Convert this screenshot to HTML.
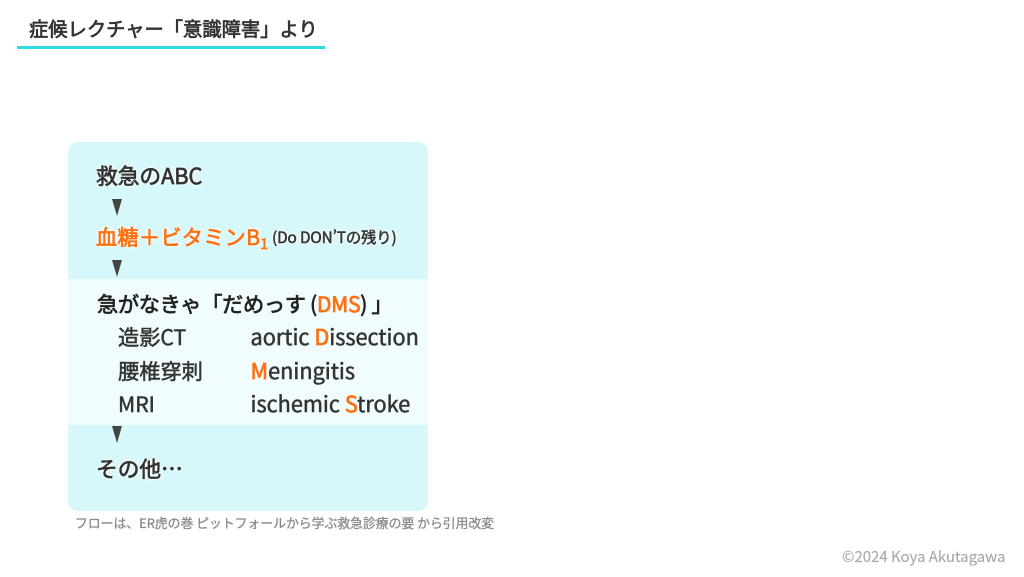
<!DOCTYPE html>
<html lang="ja"><head><meta charset="utf-8"><style>
html,body{margin:0;padding:0;background:#fff}
#p{position:relative;width:1024px;height:577px;overflow:hidden;background:#fff;font-family:"Noto Sans CJK JP","Liberation Sans",sans-serif;color:#333;font-weight:400}
.t{position:absolute;white-space:nowrap;line-height:1;-webkit-text-stroke:.5px currentColor}
.o{color:#ff7012;-webkit-text-stroke:.7px #ff7012}
.h{text-shadow:0 0 3px #fff,0 0 3px #fff,0 0 4px #fff}
.a{position:absolute;left:112px;width:0;height:0;border-left:5.5px solid transparent;border-right:5.5px solid transparent;border-top:17px solid #444}
.l{font-size:21.2px}
.m{font-size:21.7px}
</style></head><body><div id="p">
<div class="t" style="left:29px;top:19px;font-size:19.3px;-webkit-text-stroke:.7px #333">症候レクチャー「意識障害」より</div>
<div style="position:absolute;left:17px;top:46px;width:308px;height:3px;background:#2bdde3"></div>
<div style="position:absolute;left:68px;top:142px;width:360px;height:369px;background:#d6f8fa;border-radius:10px"></div>
<div style="position:absolute;left:68px;top:279px;width:360px;height:146px;background:#f0fcfd"></div>
<div class="t h m" style="left:96px;top:165px;-webkit-text-stroke:.7px #333">救急のABC</div>
<div class="a" style="top:199px"></div>
<div class="t h o l" style="left:96px;top:226px;letter-spacing:.25px">血糖＋ビタミンB<sub style="font-size:14px;line-height:0;vertical-align:-4px">1</sub></div>
<div class="t h" style="left:272px;top:230px;font-size:15.3px;letter-spacing:-.1px">(Do DON’Tの残り)</div>
<div class="a" style="top:260px"></div>
<div class="t l" style="left:97px;top:293px;color:#222;letter-spacing:-.33px;-webkit-text-stroke:.7px #222">急がなきゃ「だめっす (<span class="o">DMS</span>) 」</div>
<div class="t l" style="left:118px;top:326px">造影CT</div>
<div class="t m" style="left:250.5px;top:326px">aortic <span class="o">D</span>issection</div>
<div class="t l" style="left:118px;top:360px">腰椎穿刺</div>
<div class="t m" style="left:250.5px;top:360px"><span class="o">M</span>eningitis</div>
<div class="t l" style="left:118px;top:393px">MRI</div>
<div class="t m" style="left:250.5px;top:393px">ischemic <span class="o">S</span>troke</div>
<div class="a" style="top:426px"></div>
<div class="t h m" style="left:96px;top:458px;-webkit-text-stroke:.7px #333">その他…</div>
<div class="t" style="left:75px;top:517px;font-size:12.83px;color:#8a8a8a;-webkit-text-stroke:.3px #8a8a8a">フローは、ER虎の巻 ピットフォールから学ぶ救急診療の要 から引用改変</div>
<div class="t" style="left:842px;top:549px;font-size:15px;color:#aaa;letter-spacing:-.03px;-webkit-text-stroke:.15px #aaa">©2024 Koya Akutagawa</div>
</div></body></html>
